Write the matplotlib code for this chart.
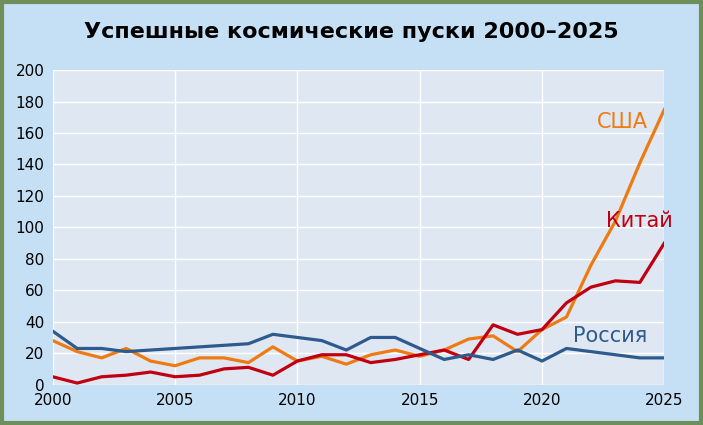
import matplotlib
matplotlib.use("Agg")
import matplotlib.pyplot as plt
from matplotlib.patches import Rectangle

years = list(range(2000, 2026))
usa = [28, 21, 17, 23, 15, 12, 17, 17, 14, 24, 15, 18, 13, 19, 22, 18,
       22, 29, 31, 21, 35, 43, 76, 104, 141, 175]
russia = [34, 23, 23, 21, 22, 23, 24, 25, 26, 32, 30, 28, 22, 30, 30, 23,
          16, 19, 16, 22, 15, 23, 21, 19, 17, 17]
china = [5, 1, 5, 6, 8, 5, 6, 10, 11, 6, 15, 19, 19, 14, 16, 19,
         22, 16, 38, 32, 35, 52, 62, 66, 65, 90]

fig = plt.figure(figsize=(7.03, 4.25), dpi=100)
fig.patch.set_facecolor("#c5e0f4")
fig.patches.append(Rectangle((0.003, 0.005), 0.994, 0.99, transform=fig.transFigure,
                             fill=False, edgecolor="#6f8f5a", linewidth=3))

ax = fig.add_axes([0.075, 0.095, 0.87, 0.74])
ax.set_facecolor("#dfe8f2")
ax.plot(years, usa, color="#ee7a12", lw=2.3)
ax.plot(years, china, color="#c00010", lw=2.3)
ax.plot(years, russia, color="#2f5a8e", lw=2.3)

ax.set_xlim(2000, 2025)
ax.set_ylim(0, 200)
ax.set_xticks(range(2000, 2026, 5))
ax.set_yticks(range(0, 201, 20))
ax.grid(True, color="white", lw=1)
ax.set_axisbelow(True)
for s in ax.spines.values():
    s.set_visible(False)
ax.tick_params(length=0, labelsize=11)
ax.tick_params(axis="y", pad=6)
ax.tick_params(axis="x", pad=6)

ax.text(2023.3, 163, "США", color="#ee7a12", fontsize=15, ha="center")
ax.text(2024.0, 100, "Китай", color="#c00010", fontsize=15, ha="center")
ax.text(2022.8, 27, "Россия", color="#2f5a8e", fontsize=15, ha="center")

fig.text(0.5, 0.925, "Успешные космические пуски 2000–2025", ha="center", va="center",
         fontsize=16, fontweight="heavy")

fig.savefig("out.png", dpi=100, facecolor=fig.get_facecolor())
